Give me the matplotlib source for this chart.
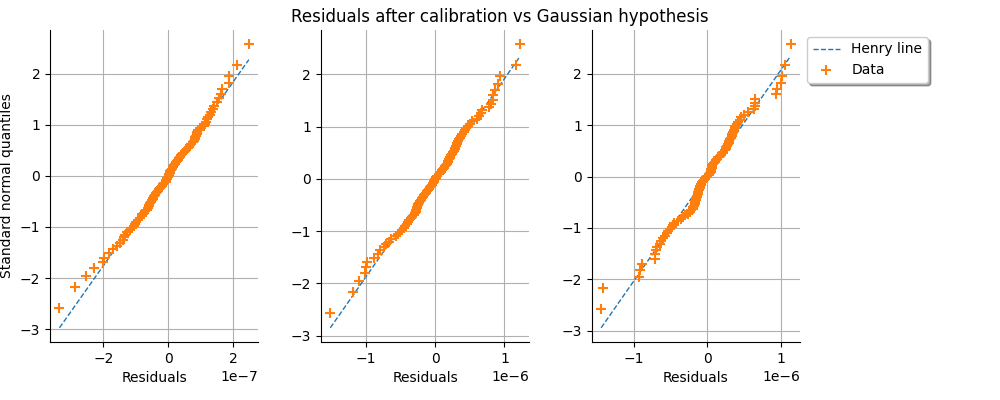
import numpy as np
import matplotlib
matplotlib.use("Agg")
import matplotlib.pyplot as plt

# standard normal quantiles of the 100 sorted residuals (shared by all panels)
quantiles = [
    -2.576, -2.170, -1.960, -1.812, -1.695, -1.598, -1.514, -1.440, -1.372, -1.311,
    -1.254, -1.200, -1.150, -1.103, -1.058, -1.015, -0.974, -0.935, -0.896, -0.860,
    -0.824, -0.789, -0.755, -0.722, -0.690, -0.659, -0.628, -0.598, -0.568, -0.539,
    -0.510, -0.482, -0.454, -0.426, -0.399, -0.372, -0.345, -0.319, -0.292, -0.266,
    -0.240, -0.215, -0.189, -0.164, -0.138, -0.113, -0.088, -0.063, -0.038, -0.013,
    0.013, 0.038, 0.063, 0.088, 0.113, 0.138, 0.164, 0.189, 0.215, 0.240,
    0.266, 0.292, 0.319, 0.345, 0.372, 0.399, 0.426, 0.454, 0.482, 0.510,
    0.539, 0.568, 0.598, 0.628, 0.659, 0.690, 0.722, 0.755, 0.789, 0.824,
    0.860, 0.896, 0.935, 0.974, 1.015, 1.058, 1.103, 1.150, 1.200, 1.254,
    1.311, 1.372, 1.440, 1.514, 1.598, 1.695, 1.812, 1.960, 2.170, 2.576,
]

# sorted residuals, panel 1 (x 1e-7)
residuals_1 = [
    -3.35, -2.87, -2.53, -2.29, -2.00, -1.98, -1.82, -1.69, -1.57, -1.48,
    -1.38, -1.36, -1.33, -1.26, -1.18, -1.12, -1.06, -1.03, -0.99, -0.93,
    -0.86, -0.82, -0.79, -0.74, -0.71, -0.66, -0.62, -0.60, -0.58, -0.55,
    -0.52, -0.50, -0.48, -0.46, -0.44, -0.41, -0.38, -0.35, -0.31, -0.28,
    -0.25, -0.22, -0.19, -0.16, -0.12, -0.08, -0.06, -0.04, -0.02, 0.00,
    0.02, 0.03, 0.05, 0.07, 0.09, 0.11, 0.14, 0.16, 0.19, 0.22,
    0.25, 0.28, 0.31, 0.34, 0.37, 0.40, 0.42, 0.45, 0.51, 0.55,
    0.60, 0.65, 0.69, 0.72, 0.76, 0.79, 0.82, 0.84, 0.86, 0.88,
    0.90, 0.93, 0.97, 1.10, 1.13, 1.17, 1.20, 1.24, 1.28, 1.33,
    1.38, 1.42, 1.50, 1.56, 1.64, 1.65, 1.88, 1.89, 2.12, 2.49,
]

# sorted residuals, panel 2 (x 1e-6)
residuals_2 = [
    -1.51, -1.18, -1.09, -1.01, -1.00, -0.98, -0.875, -0.82, -0.79, -0.73,
    -0.70, -0.67, -0.63, -0.57, -0.54, -0.50, -0.47, -0.45, -0.43, -0.41,
    -0.39, -0.37, -0.35, -0.33, -0.31, -0.29, -0.28, -0.27, -0.265, -0.26,
    -0.25, -0.24, -0.23, -0.215, -0.20, -0.19, -0.175, -0.16, -0.145, -0.13,
    -0.115, -0.10, -0.085, -0.07, -0.06, -0.05, -0.035, -0.02, -0.01, 0.00,
    0.01, 0.02, 0.035, 0.05, 0.065, 0.08, 0.095, 0.11, 0.125, 0.14,
    0.155, 0.17, 0.18, 0.19, 0.20, 0.21, 0.22, 0.235, 0.25, 0.265,
    0.275, 0.285, 0.29, 0.30, 0.31, 0.32, 0.33, 0.345, 0.36, 0.375,
    0.39, 0.41, 0.43, 0.45, 0.47, 0.50, 0.53, 0.60, 0.64, 0.66,
    0.68, 0.78, 0.80, 0.83, 0.84, 0.86, 0.91, 0.94, 1.17, 1.22,
]

# sorted residuals, panel 3 (x 1e-6)
residuals_3 = [
    -1.44, -1.42, -0.92, -0.91, -0.89, -0.71, -0.71, -0.70, -0.685, -0.64,
    -0.63, -0.595, -0.58, -0.55, -0.53, -0.51, -0.48, -0.46, -0.45, -0.40,
    -0.36, -0.33, -0.30, -0.26, -0.235, -0.215, -0.20, -0.19, -0.18, -0.17,
    -0.165, -0.16, -0.155, -0.15, -0.14, -0.135, -0.13, -0.125, -0.12, -0.115,
    -0.11, -0.10, -0.095, -0.09, -0.08, -0.075, -0.06, -0.05, -0.035, -0.02,
    0.00, 0.02, 0.035, 0.045, 0.05, 0.055, 0.06, 0.065, 0.07, 0.08,
    0.09, 0.10, 0.115, 0.13, 0.15, 0.17, 0.19, 0.21, 0.22, 0.235,
    0.25, 0.26, 0.27, 0.28, 0.29, 0.30, 0.31, 0.32, 0.33, 0.34,
    0.35, 0.36, 0.37, 0.38, 0.40, 0.42, 0.44, 0.46, 0.50, 0.55,
    0.63, 0.645, 0.65, 0.65, 0.93, 0.94, 1.00, 1.01, 1.05, 1.13,
]

scales = [1e-7, 1e-6, 1e-6]
panels = [residuals_1, residuals_2, residuals_3]

fig, axes = plt.subplots(1, 3, figsize=(10, 4), dpi=100)
fig.subplots_adjust(left=0.05, right=0.80, bottom=0.145, top=0.925, wspace=0.3)
fig.suptitle("Residuals after calibration vs Gaussian hypothesis")

for i, ax in enumerate(axes):
    x = np.array(panels[i]) * scales[i]
    q = np.array(quantiles)
    # Henry line from the sample mean / std
    mu = x.mean()
    sigma = x.std(ddof=1)
    xl = np.array([x.min(), x.max()])
    ax.plot(xl, (xl - mu) / sigma, linestyle="--", color="C0", linewidth=1, label="Henry line")
    ax.plot(x, q, linestyle="None", marker="+", color="C1", markersize=6.5, markeredgewidth=1.5, label="Data")
    ax.set_xlabel("Residuals")
    ax.grid(True)
    ax.spines["top"].set_visible(False)
    ax.spines["right"].set_visible(False)

axes[0].set_ylabel("Standard normal quantiles")
axes[2].legend(loc="upper left", bbox_to_anchor=(1.0, 1.0), shadow=True)

plt.savefig("out.png")
